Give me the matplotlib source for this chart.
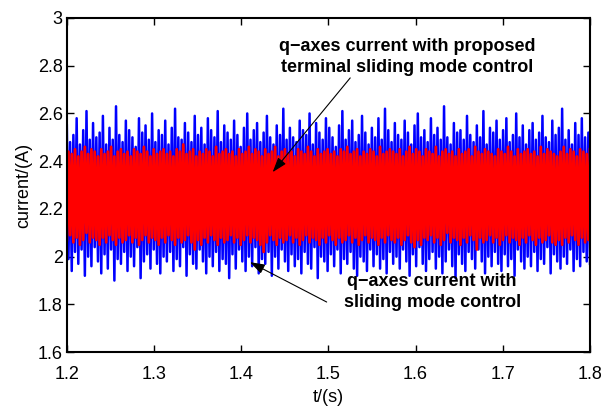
import numpy as np
import matplotlib
matplotlib.use("Agg")
import matplotlib.pyplot as plt

plt.rcParams['font.family'] = ['Liberation Sans', 'DejaVu Sans']

# peak / trough values, in hundredths of an ampere
blue_hi = [255, 248, 251, 258, 247, 253, 261, 249, 256, 250,
           252, 259, 247, 254, 249, 263, 251, 248, 257, 253,
           250, 246, 258, 252, 255, 249, 260, 248, 253, 251,
           257, 247, 254, 262, 250, 249, 256, 252, 248, 259,
           251, 254, 247, 258, 253, 250, 261, 248, 255, 252,
           249, 257, 251, 246, 254, 260, 249, 253, 256, 248,
           252, 259, 250, 247, 255, 251, 262, 249, 254, 250,
           248, 257, 253, 251, 260, 247, 256, 252, 249, 258,
           254, 250, 246, 255, 261, 249, 253, 257, 248, 251,
           259, 252, 247, 254, 250, 258, 249, 262, 253, 248,
           256, 251, 249, 257, 252, 247, 255, 260, 250, 253,
           248, 258, 251, 254, 249, 263, 250, 247, 256, 252,
           253, 249, 259, 251, 248, 255, 250, 261, 247, 254,
           252, 257, 249, 253, 258, 248, 251, 260, 250, 255,
           247, 253, 256, 249, 252, 259, 250, 248, 257, 251,
           254, 262, 249, 253, 247, 256, 251, 258, 250, 252]
blue_lo = [199, 194, 202, 197, 203, 192, 200, 196, 204, 198,
           193, 201, 195, 203, 190, 199, 197, 202, 194, 200,
           196, 204, 191, 198, 201, 195, 203, 197, 193, 200,
           198, 202, 194, 199, 196, 204, 192, 201, 197, 195,
           203, 198, 193, 200, 196, 202, 194, 199, 197, 191,
           201, 195, 203, 198, 194, 200, 196, 204, 193, 199,
           197, 202, 192, 200, 195, 203, 198, 194, 201, 196,
           199, 193, 202, 197, 195, 204, 191, 200, 198, 194,
           201, 196, 203, 193, 199, 197, 202, 195, 192, 200,
           198, 194, 203, 196, 201, 195, 199, 193, 202, 197,
           200, 195, 203, 198, 192, 201, 196, 204, 197, 194,
           199, 202, 195, 200, 193, 198, 203, 196, 191, 201,
           197, 194, 202, 199, 195, 203, 198, 193, 200, 196,
           202, 197, 194, 201, 196, 199, 192, 203, 198, 195,
           200, 196, 202, 194, 199, 197, 204, 193, 201, 198,
           195, 200, 197, 203, 194, 199, 196, 202, 198, 197]
red_hi = [244, 243, 245, 242, 244, 246, 243, 245, 244, 242,
          245, 243, 244, 246, 242, 244, 245, 243, 244, 242,
          245, 244, 243, 246, 244, 242, 245, 243, 244, 245,
          243, 244, 242, 245, 244, 247, 243, 244, 245, 242,
          244, 243, 245, 244, 242, 246, 243, 244, 245, 243,
          244, 242, 245, 243, 244, 246, 243, 245, 244, 242,
          245, 243, 244, 246, 242, 244, 245, 243, 244, 242,
          245, 244, 243, 246, 244, 242, 245, 243, 244, 245,
          243, 244, 242, 245, 244, 246, 243, 244, 245, 242,
          244, 243, 245, 244, 242, 246, 243, 244, 245, 244,
          243, 245, 242, 244, 246, 243, 245, 244, 242, 245,
          244, 243, 246, 242, 244, 245, 243, 244, 242, 245,
          243, 244, 245, 242, 246, 244, 243, 245, 244, 243,
          242, 245, 244, 243, 246, 244, 242, 245, 243, 244,
          245, 243, 244, 242, 246, 243, 245, 244, 243, 242,
          244, 246, 243, 245, 244, 242, 245, 244, 243, 245]
red_lo = [207, 209, 206, 208, 205, 207, 210, 206, 208, 207,
          205, 208, 206, 209, 207, 205, 208, 206, 207, 209,
          206, 208, 205, 207, 209, 206, 208, 207, 205, 208,
          206, 209, 207, 205, 208, 206, 207, 209, 206, 203,
          207, 205, 208, 206, 209, 207, 205, 208, 206, 207,
          209, 206, 208, 205, 207, 209, 206, 208, 207, 205,
          202, 206, 209, 207, 205, 208, 206, 207, 209, 206,
          208, 205, 207, 209, 206, 208, 207, 205, 208, 206,
          209, 207, 205, 208, 206, 207, 209, 206, 208, 205,
          207, 209, 206, 208, 207, 205, 208, 206, 209, 207,
          206, 208, 205, 207, 209, 206, 204, 207, 205, 208,
          207, 209, 206, 208, 205, 207, 210, 206, 208, 207,
          205, 208, 206, 209, 207, 203, 208, 206, 207, 209,
          206, 208, 205, 207, 209, 206, 208, 207, 205, 208,
          206, 209, 207, 205, 208, 206, 207, 209, 206, 205,
          207, 205, 208, 206, 209, 207, 205, 208, 206, 207]

def interleave(hi, lo):
    y = np.empty(2 * len(hi))
    y[0::2] = hi
    y[1::2] = lo
    return y / 100.0

y_blue = interleave(blue_hi, blue_lo)
y_red = interleave(red_lo, red_hi)
t_blue = np.linspace(1.2, 1.8, len(y_blue))
t_red = np.linspace(1.2, 1.8, len(y_red))

fig = plt.figure(figsize=(6.13, 4.09), dpi=100)
ax = fig.add_axes([0.109, 0.139, 0.8535, 0.817])
ax.plot(t_blue, y_blue, color='b', lw=1.8)
ax.plot(t_red, y_red, color='r', lw=2.0)

ax.set_xlim(1.2, 1.8)
ax.set_ylim(1.6, 3.0)
ax.set_xticks(np.arange(1.2, 1.81, 0.1))
ax.set_yticks(np.arange(1.6, 3.01, 0.2))
ax.set_xticklabels(['1.2', '1.3', '1.4', '1.5', '1.6', '1.7', '1.8'])
ax.set_yticklabels(['1.6', '1.8', '2', '2.2', '2.4', '2.6', '2.8', '3'])
ax.tick_params(direction='in', top=True, right=True, length=5, width=1, labelsize=13)
ax.tick_params(axis='x', pad=10)
ax.tick_params(axis='y', pad=3)
for s in ax.spines.values():
    s.set_linewidth(1.5)
ax.set_xlabel('t/(s)', fontsize=13, labelpad=4)
ax.set_ylabel('current/(A)', fontsize=13, labelpad=4)

arrow = dict(arrowstyle='-|>,head_length=0.9,head_width=0.3', color='k', lw=0.8,
             shrinkA=0, shrinkB=0)
ax.annotate('', xy=(1.436, 2.354), xytext=(1.525, 2.749), arrowprops=arrow)
ax.text(1.59, 2.838, 'q\u2212axes current with proposed\nterminal sliding mode control',
        ha='center', va='center', fontsize=13, fontweight='bold', linespacing=1.3)
ax.annotate('', xy=(1.41, 1.977), xytext=(1.498, 1.81), arrowprops=arrow)
ax.text(1.619, 1.851, 'q\u2212axes current with\nsliding mode control',
        ha='center', va='center', fontsize=13, fontweight='bold', linespacing=1.3)

fig.savefig('out.png', dpi=100)
